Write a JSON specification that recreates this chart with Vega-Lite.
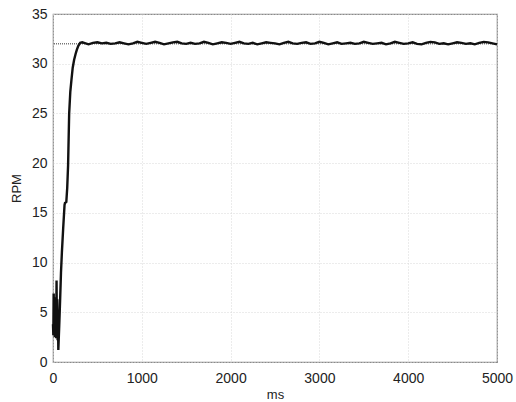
{
  "$schema": "https://vega.github.io/schema/vega-lite/v6.json",
  "width": 444,
  "height": 348,
  "autosize": {"type": "none"},
  "padding": {"left": 53, "top": 14, "right": 19, "bottom": 40},
  "background": "white",
  "config": {
    "view": {"stroke": "#8a8a8a", "strokeWidth": 1.2},
    "axis": {
      "labelFont": "Liberation Sans",
      "labelFontSize": 14,
      "labelColor": "#222",
      "titleFont": "Liberation Sans",
      "titleFontSize": 13,
      "titleFontWeight": "normal",
      "titleColor": "#222",
      "gridColor": "#d8d8d8",
      "gridDash": [1, 2],
      "gridWidth": 1,
      "domain": false,
      "tickColor": "#8a8a8a",
      "tickSize": 0,
      "labelFlush": false
    }
  },
  "datasets": {
    "speed": [
      {"t": 0, "rpm": 3.8}, {"t": 4, "rpm": 2.7}, {"t": 8, "rpm": 6.9}, {"t": 12, "rpm": 2.9},
      {"t": 16, "rpm": 5.6}, {"t": 20, "rpm": 2.5}, {"t": 24, "rpm": 6.5}, {"t": 28, "rpm": 3.4},
      {"t": 32, "rpm": 5.2}, {"t": 36, "rpm": 2.4}, {"t": 40, "rpm": 8.2}, {"t": 44, "rpm": 2.8},
      {"t": 48, "rpm": 6.3}, {"t": 52, "rpm": 2.2}, {"t": 56, "rpm": 4.8}, {"t": 60, "rpm": 1.2},
      {"t": 70, "rpm": 3.6}, {"t": 80, "rpm": 6.2}, {"t": 90, "rpm": 9.0}, {"t": 100, "rpm": 11.0},
      {"t": 115, "rpm": 13.5}, {"t": 130, "rpm": 15.8}, {"t": 135, "rpm": 16.0}, {"t": 150, "rpm": 16.1},
      {"t": 160, "rpm": 17.5}, {"t": 170, "rpm": 19.8}, {"t": 182, "rpm": 25.0}, {"t": 195, "rpm": 27.2},
      {"t": 208, "rpm": 28.4}, {"t": 222, "rpm": 29.6}, {"t": 238, "rpm": 30.4}, {"t": 255, "rpm": 31.0},
      {"t": 268, "rpm": 31.4}, {"t": 285, "rpm": 31.8}, {"t": 306, "rpm": 32.1}, {"t": 330, "rpm": 32.15},
      {"t": 350, "rpm": 32.1}, {"t": 400, "rpm": 31.95}, {"t": 450, "rpm": 32.1}, {"t": 500, "rpm": 32.15},
      {"t": 550, "rpm": 32.05}, {"t": 600, "rpm": 32.1}, {"t": 650, "rpm": 32.0}, {"t": 700, "rpm": 32.05},
      {"t": 750, "rpm": 32.15}, {"t": 800, "rpm": 32.05}, {"t": 850, "rpm": 31.95}, {"t": 900, "rpm": 32.05},
      {"t": 950, "rpm": 32.2}, {"t": 1000, "rpm": 32.1}, {"t": 1050, "rpm": 32.0}, {"t": 1100, "rpm": 32.1},
      {"t": 1150, "rpm": 32.2}, {"t": 1200, "rpm": 32.1}, {"t": 1250, "rpm": 31.95}, {"t": 1300, "rpm": 32.05},
      {"t": 1350, "rpm": 32.15}, {"t": 1400, "rpm": 32.2}, {"t": 1450, "rpm": 32.05}, {"t": 1500, "rpm": 32.0},
      {"t": 1550, "rpm": 32.1}, {"t": 1600, "rpm": 32.0}, {"t": 1650, "rpm": 32.05}, {"t": 1700, "rpm": 32.2},
      {"t": 1750, "rpm": 32.1}, {"t": 1800, "rpm": 31.95}, {"t": 1850, "rpm": 32.05}, {"t": 1900, "rpm": 32.15},
      {"t": 1950, "rpm": 32.1}, {"t": 2000, "rpm": 32.0}, {"t": 2050, "rpm": 32.1}, {"t": 2100, "rpm": 32.2},
      {"t": 2150, "rpm": 32.05}, {"t": 2200, "rpm": 32.0}, {"t": 2250, "rpm": 32.1}, {"t": 2300, "rpm": 31.95},
      {"t": 2350, "rpm": 32.05}, {"t": 2400, "rpm": 32.15}, {"t": 2450, "rpm": 32.1}, {"t": 2500, "rpm": 32.05},
      {"t": 2550, "rpm": 31.95}, {"t": 2600, "rpm": 32.1}, {"t": 2650, "rpm": 32.2}, {"t": 2700, "rpm": 32.05},
      {"t": 2750, "rpm": 32.0}, {"t": 2800, "rpm": 32.1}, {"t": 2850, "rpm": 32.15}, {"t": 2900, "rpm": 32.0},
      {"t": 2950, "rpm": 32.05}, {"t": 3000, "rpm": 32.2}, {"t": 3050, "rpm": 32.1}, {"t": 3100, "rpm": 31.95},
      {"t": 3150, "rpm": 32.05}, {"t": 3200, "rpm": 32.15}, {"t": 3250, "rpm": 32.0}, {"t": 3300, "rpm": 32.05},
      {"t": 3350, "rpm": 32.1}, {"t": 3400, "rpm": 32.0}, {"t": 3450, "rpm": 32.05}, {"t": 3500, "rpm": 32.2},
      {"t": 3550, "rpm": 32.1}, {"t": 3600, "rpm": 32.0}, {"t": 3650, "rpm": 32.05}, {"t": 3700, "rpm": 32.1},
      {"t": 3750, "rpm": 31.95}, {"t": 3800, "rpm": 32.05}, {"t": 3850, "rpm": 32.2}, {"t": 3900, "rpm": 32.1},
      {"t": 3950, "rpm": 32.0}, {"t": 4000, "rpm": 32.05}, {"t": 4050, "rpm": 32.15}, {"t": 4100, "rpm": 32.0},
      {"t": 4150, "rpm": 31.95}, {"t": 4200, "rpm": 32.1}, {"t": 4250, "rpm": 32.2}, {"t": 4300, "rpm": 32.15},
      {"t": 4350, "rpm": 32.0}, {"t": 4400, "rpm": 32.05}, {"t": 4450, "rpm": 31.95}, {"t": 4500, "rpm": 32.05},
      {"t": 4550, "rpm": 32.15}, {"t": 4600, "rpm": 32.1}, {"t": 4650, "rpm": 32.0}, {"t": 4700, "rpm": 32.05},
      {"t": 4750, "rpm": 31.95}, {"t": 4800, "rpm": 32.1}, {"t": 4850, "rpm": 32.2}, {"t": 4900, "rpm": 32.15},
      {"t": 4950, "rpm": 32.05}, {"t": 5000, "rpm": 31.95}
    ],
    "reference": [{"rpm": 32}]
  },
  "layer": [
    {
      "data": {"name": "reference"},
      "mark": {"type": "rule", "color": "#333", "strokeDash": [1, 1], "strokeWidth": 1},
      "encoding": {
        "y": {"field": "rpm", "type": "quantitative", "scale": {"domain": [0, 35]}}
      }
    },
    {
      "data": {"name": "speed"},
      "mark": {"type": "line", "color": "#111", "strokeWidth": 2.4, "strokeJoin": "miter"},
      "encoding": {
        "x": {
          "field": "t", "type": "quantitative", "title": "ms",
          "scale": {"domain": [0, 5000], "nice": false, "zero": false},
          "axis": {"values": [0, 1000, 2000, 3000, 4000, 5000], "labelPadding": 9, "titlePadding": 3, "format": "d"}
        },
        "y": {
          "field": "rpm", "type": "quantitative", "title": "RPM",
          "scale": {"domain": [0, 35], "nice": false},
          "axis": {"values": [0, 5, 10, 15, 20, 25, 30, 35], "labelPadding": 6, "titlePadding": 8}
        }
      }
    }
  ]
}
